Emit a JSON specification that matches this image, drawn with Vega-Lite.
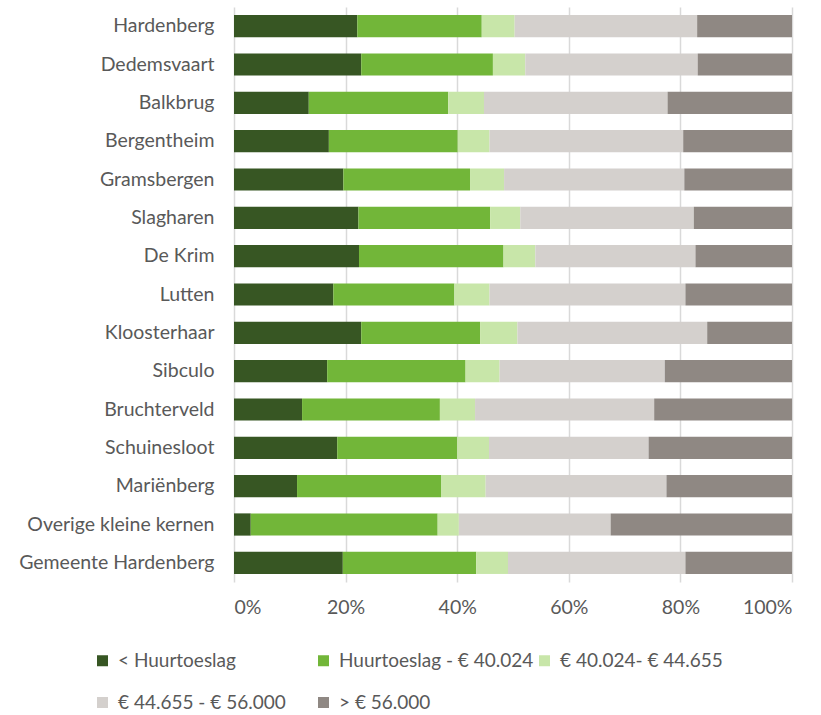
{
  "$schema": "https://vega.github.io/schema/vega-lite/v6.json",
  "width": 558,
  "height": 575,
  "autosize": {"type": "none"},
  "padding": {"left": 234, "top": 7, "right": 29, "bottom": 133},
  "config": {
    "view": {"stroke": null},
    "font": "Lato",
    "axis": {"labelFont": "Lato", "labelColor": "#595959", "labelFontSize": 19.5, "labelLimit": 400},
    "legend": {"labelFont": "Lato", "labelColor": "#595959", "labelFontSize": 19, "labelLimit": 400}
  },
  "data": {
    "values": [
      {"kern": "Hardenberg", "cat": "< Huurtoeslag", "pct": 22.1},
      {"kern": "Hardenberg", "cat": "Huurtoeslag - € 40.024", "pct": 22.3},
      {"kern": "Hardenberg", "cat": "€ 40.024- € 44.655", "pct": 5.9},
      {"kern": "Hardenberg", "cat": "€ 44.655 - € 56.000", "pct": 32.7},
      {"kern": "Hardenberg", "cat": "> € 56.000", "pct": 17.0},
      {"kern": "Dedemsvaart", "cat": "< Huurtoeslag", "pct": 22.8},
      {"kern": "Dedemsvaart", "cat": "Huurtoeslag - € 40.024", "pct": 23.6},
      {"kern": "Dedemsvaart", "cat": "€ 40.024- € 44.655", "pct": 5.8},
      {"kern": "Dedemsvaart", "cat": "€ 44.655 - € 56.000", "pct": 30.9},
      {"kern": "Dedemsvaart", "cat": "> € 56.000", "pct": 16.9},
      {"kern": "Balkbrug", "cat": "< Huurtoeslag", "pct": 13.4},
      {"kern": "Balkbrug", "cat": "Huurtoeslag - € 40.024", "pct": 25.0},
      {"kern": "Balkbrug", "cat": "€ 40.024- € 44.655", "pct": 6.4},
      {"kern": "Balkbrug", "cat": "€ 44.655 - € 56.000", "pct": 32.9},
      {"kern": "Balkbrug", "cat": "> € 56.000", "pct": 22.3},
      {"kern": "Bergentheim", "cat": "< Huurtoeslag", "pct": 17.0},
      {"kern": "Bergentheim", "cat": "Huurtoeslag - € 40.024", "pct": 23.1},
      {"kern": "Bergentheim", "cat": "€ 40.024- € 44.655", "pct": 5.7},
      {"kern": "Bergentheim", "cat": "€ 44.655 - € 56.000", "pct": 34.7},
      {"kern": "Bergentheim", "cat": "> € 56.000", "pct": 19.5},
      {"kern": "Gramsbergen", "cat": "< Huurtoeslag", "pct": 19.6},
      {"kern": "Gramsbergen", "cat": "Huurtoeslag - € 40.024", "pct": 22.7},
      {"kern": "Gramsbergen", "cat": "€ 40.024- € 44.655", "pct": 6.1},
      {"kern": "Gramsbergen", "cat": "€ 44.655 - € 56.000", "pct": 32.3},
      {"kern": "Gramsbergen", "cat": "> € 56.000", "pct": 19.3},
      {"kern": "Slagharen", "cat": "< Huurtoeslag", "pct": 22.3},
      {"kern": "Slagharen", "cat": "Huurtoeslag - € 40.024", "pct": 23.6},
      {"kern": "Slagharen", "cat": "€ 40.024- € 44.655", "pct": 5.4},
      {"kern": "Slagharen", "cat": "€ 44.655 - € 56.000", "pct": 31.1},
      {"kern": "Slagharen", "cat": "> € 56.000", "pct": 17.6},
      {"kern": "De Krim", "cat": "< Huurtoeslag", "pct": 22.4},
      {"kern": "De Krim", "cat": "Huurtoeslag - € 40.024", "pct": 25.9},
      {"kern": "De Krim", "cat": "€ 40.024- € 44.655", "pct": 5.7},
      {"kern": "De Krim", "cat": "€ 44.655 - € 56.000", "pct": 28.7},
      {"kern": "De Krim", "cat": "> € 56.000", "pct": 17.3},
      {"kern": "Lutten", "cat": "< Huurtoeslag", "pct": 17.8},
      {"kern": "Lutten", "cat": "Huurtoeslag - € 40.024", "pct": 21.7},
      {"kern": "Lutten", "cat": "€ 40.024- € 44.655", "pct": 6.3},
      {"kern": "Lutten", "cat": "€ 44.655 - € 56.000", "pct": 35.1},
      {"kern": "Lutten", "cat": "> € 56.000", "pct": 19.1},
      {"kern": "Kloosterhaar", "cat": "< Huurtoeslag", "pct": 22.8},
      {"kern": "Kloosterhaar", "cat": "Huurtoeslag - € 40.024", "pct": 21.3},
      {"kern": "Kloosterhaar", "cat": "€ 40.024- € 44.655", "pct": 6.7},
      {"kern": "Kloosterhaar", "cat": "€ 44.655 - € 56.000", "pct": 34.0},
      {"kern": "Kloosterhaar", "cat": "> € 56.000", "pct": 15.2},
      {"kern": "Sibculo", "cat": "< Huurtoeslag", "pct": 16.7},
      {"kern": "Sibculo", "cat": "Huurtoeslag - € 40.024", "pct": 24.8},
      {"kern": "Sibculo", "cat": "€ 40.024- € 44.655", "pct": 6.1},
      {"kern": "Sibculo", "cat": "€ 44.655 - € 56.000", "pct": 29.6},
      {"kern": "Sibculo", "cat": "> € 56.000", "pct": 22.8},
      {"kern": "Bruchterveld", "cat": "< Huurtoeslag", "pct": 12.2},
      {"kern": "Bruchterveld", "cat": "Huurtoeslag - € 40.024", "pct": 24.7},
      {"kern": "Bruchterveld", "cat": "€ 40.024- € 44.655", "pct": 6.3},
      {"kern": "Bruchterveld", "cat": "€ 44.655 - € 56.000", "pct": 32.1},
      {"kern": "Bruchterveld", "cat": "> € 56.000", "pct": 24.7},
      {"kern": "Schuinesloot", "cat": "< Huurtoeslag", "pct": 18.5},
      {"kern": "Schuinesloot", "cat": "Huurtoeslag - € 40.024", "pct": 21.5},
      {"kern": "Schuinesloot", "cat": "€ 40.024- € 44.655", "pct": 5.7},
      {"kern": "Schuinesloot", "cat": "€ 44.655 - € 56.000", "pct": 28.6},
      {"kern": "Schuinesloot", "cat": "> € 56.000", "pct": 25.7},
      {"kern": "Mariënberg", "cat": "< Huurtoeslag", "pct": 11.3},
      {"kern": "Mariënberg", "cat": "Huurtoeslag - € 40.024", "pct": 25.8},
      {"kern": "Mariënberg", "cat": "€ 40.024- € 44.655", "pct": 8.0},
      {"kern": "Mariënberg", "cat": "€ 44.655 - € 56.000", "pct": 32.4},
      {"kern": "Mariënberg", "cat": "> € 56.000", "pct": 22.5},
      {"kern": "Overige kleine kernen", "cat": "< Huurtoeslag", "pct": 3.0},
      {"kern": "Overige kleine kernen", "cat": "Huurtoeslag - € 40.024", "pct": 33.5},
      {"kern": "Overige kleine kernen", "cat": "€ 40.024- € 44.655", "pct": 3.8},
      {"kern": "Overige kleine kernen", "cat": "€ 44.655 - € 56.000", "pct": 27.2},
      {"kern": "Overige kleine kernen", "cat": "> € 56.000", "pct": 32.5},
      {"kern": "Gemeente Hardenberg", "cat": "< Huurtoeslag", "pct": 19.5},
      {"kern": "Gemeente Hardenberg", "cat": "Huurtoeslag - € 40.024", "pct": 23.9},
      {"kern": "Gemeente Hardenberg", "cat": "€ 40.024- € 44.655", "pct": 5.7},
      {"kern": "Gemeente Hardenberg", "cat": "€ 44.655 - € 56.000", "pct": 31.8},
      {"kern": "Gemeente Hardenberg", "cat": "> € 56.000", "pct": 19.1}
    ]
  },
  "transform": [
    {"window": [{"op": "row_number", "as": "seg"}], "groupby": ["kern"]}
  ],
  "mark": {"type": "bar"},
  "encoding": {
    "y": {
      "field": "kern",
      "type": "nominal",
      "sort": null,
      "scale": {"paddingInner": 0.42, "paddingOuter": 0.21},
      "axis": {"title": null, "ticks": false, "domain": false, "labelPadding": 20, "grid": false}
    },
    "x": {
      "field": "pct",
      "type": "quantitative",
      "stack": "normalize",
      "scale": {"domain": [0, 1]},
      "axis": {
        "title": null,
        "format": ".0%",
        "values": [0, 0.2, 0.4, 0.6, 0.8, 1],
        "ticks": false,
        "domain": false,
        "grid": true,
        "gridColor": "#D9D9D9",
        "gridWidth": 1.5,
        "labelPadding": 16
      }
    },
    "order": {"field": "seg", "type": "quantitative", "sort": "ascending"},
    "color": {
      "field": "cat",
      "type": "nominal",
      "scale": {
        "domain": ["< Huurtoeslag", "Huurtoeslag - € 40.024", "€ 40.024- € 44.655", "€ 44.655 - € 56.000", "> € 56.000"],
        "range": ["#375623", "#72B639", "#C8E6A9", "#D4D0CD", "#8F8883"]
      },
      "legend": {
        "title": null,
        "orient": "none",
        "legendX": -141,
        "legendY": 644,
        "direction": "horizontal",
        "columns": 3,
        "gridAlign": "all",
        "columnPadding": 1,
        "rowPadding": 22,
        "symbolType": "square",
        "symbolSize": 121,
        "symbolStrokeWidth": 0,
        "labelOffset": 6
      }
    }
  }
}
